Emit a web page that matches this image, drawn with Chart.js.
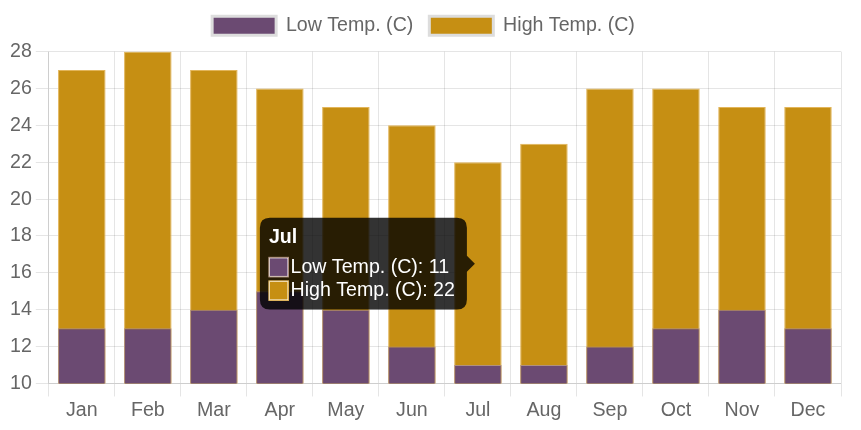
<!DOCTYPE html>
<html>
<head>
<meta charset="utf-8">
<script src="https://cdn.jsdelivr.net/npm/chart.js@4/dist/chart.umd.min.js"></script>
<style>
  html, body { margin: 0; padding: 0; background: #fff; }
  #wrap { width: 861px; height: 430px; }
</style>
</head>
<body>
<div id="wrap"><canvas id="myChart"></canvas></div>
<script>
var months = ["Jan", "Feb", "Mar", "Apr", "May", "Jun", "Jul", "Aug", "Sep", "Oct", "Nov", "Dec"];
var lowTemp = [13, 13, 14, 15, 14, 12, 11, 11, 12, 13, 14, 13];
var highTemp = [27, 28, 27, 26, 25, 24, 22, 23, 26, 26, 25, 25];
var yMin = 10, yMax = 28, yStep = 2;
var activeMonth = 6;

Chart.defaults.font.family = "Arial, 'Liberation Sans', Helvetica, sans-serif";
Chart.defaults.font.size = 19.6;
Chart.defaults.color = '#666';

// a bit more room under the legend
var legendGap = {
    id: 'legendGap',
    beforeInit: function (chart) {
        var fit = chart.legend.fit;
        chart.legend.fit = function () {
            fit.bind(chart.legend)();
            this.height += 6;
        };
    }
};

var ctx = document.getElementById('myChart');
var myChart = new Chart(ctx, {
    type: 'bar',
    data: {
        labels: months,
        datasets: [
            {
                label: 'Low Temp. (C)',
                data: lowTemp,
                backgroundColor: '#6b4a72',
                borderColor: '#b0907e',
                borderWidth: 1
            },
            {
                label: 'High Temp. (C)',
                data: highTemp,
                backgroundColor: '#c68f13',
                borderColor: '#e2b55a',
                borderWidth: 1
            }
        ]
    },
    plugins: [legendGap],
    options: {
        responsive: true,
        maintainAspectRatio: false,
        animation: false,
        layout: { padding: { left: 6, right: 20, top: 0, bottom: 6 } },
        interaction: { mode: 'index', intersect: false },
        scales: {
            x: {
                stacked: true,
                grid: { color: 'rgba(0,0,0,0.1)', tickLength: 13 },
                ticks: { padding: 2 }
            },
            y: {
                min: yMin,
                max: yMax,
                ticks: { stepSize: yStep, padding: 4 },
                grid: { color: 'rgba(0,0,0,0.1)', tickLength: 13 }
            }
        },
        plugins: {
            legend: {
                labels: {
                    boxWidth: 64,
                    boxHeight: 19,
                    padding: 16,
                    generateLabels: function (chart) {
                        var items = Chart.defaults.plugins.legend.labels.generateLabels(chart);
                        items.forEach(function (it) {
                            it.strokeStyle = '#dddddd';
                            it.lineWidth = 3;
                        });
                        return items;
                    }
                }
            },
            tooltip: {
                backgroundColor: 'rgba(0,0,0,0.8)',
                titleFont: { size: 19.6, weight: 'bold' },
                bodyFont: { size: 19.6 },
                padding: { top: 8, bottom: 7, left: 9, right: 12 },
                caretSize: 8,
                caretPadding: 3,
                cornerRadius: 10,
                bodySpacing: 0,
                titleMarginBottom: 6
            }
        }
    }
});

myChart.tooltip.setActiveElements([
    { datasetIndex: 0, index: activeMonth },
    { datasetIndex: 1, index: activeMonth }
], { x: 0, y: 0 });
myChart.update();
</script>
</body>
</html>
